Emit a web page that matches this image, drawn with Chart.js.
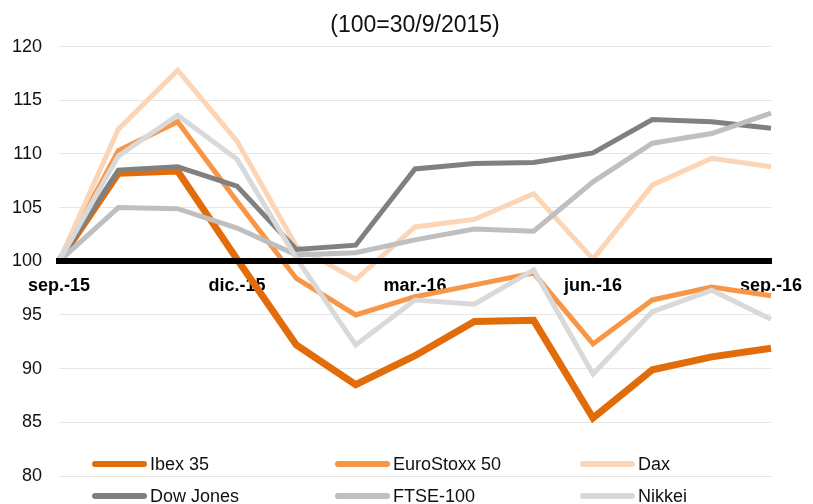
<!DOCTYPE html>
<html>
<head>
<meta charset="utf-8">
<script src="https://cdn.jsdelivr.net/npm/chart.js@4/dist/chart.umd.min.js"></script>
<style>
  html, body { margin: 0; padding: 0; background: #fff; overflow: hidden; }
  #wrap { width: 813px; height: 504px; }
</style>
</head>
<body>
<div id="wrap"><canvas id="indexChart" width="813" height="504"></canvas></div>
<script>
// Monthly values, base 100 = 30/9/2015
const months = ['sep.-15', 'oct.-15', 'nov.-15', 'dic.-15', 'ene.-16', 'feb.-16', 'mar.-16',
  'abr.-16', 'may.-16', 'jun.-16', 'jul.-16', 'ago.-16', 'sep.-16'];
const ibex35 = [100, 108.2, 108.4, 100.2, 92.2, 88.5, 91.2, 94.4, 94.5, 85.4, 89.9, 91.1, 91.9];
const euroStoxx50 = [100, 110.3, 113.0, 105.6, 98.4, 95.0, 96.7, 97.8, 98.9, 92.3, 96.4, 97.6, 96.8];
const dax = [100, 112.3, 117.8, 111.2, 101.4, 98.3, 103.2, 103.9, 106.3, 100.2, 107.1, 109.6, 108.8];
const dowJones = [100, 108.5, 108.8, 107.0, 101.1, 101.5, 108.6, 109.1, 109.2, 110.1, 113.2, 113.0, 112.4];
const ftse100 = [100, 105.0, 104.9, 103.1, 100.6, 100.8, 102.0, 103.0, 102.8, 107.4, 111.0, 111.9, 113.8];
const nikkei = [100, 109.8, 113.6, 109.5, 100.3, 92.2, 96.4, 96.0, 99.2, 89.5, 95.3, 97.3, 94.6];
const yTicks = [80, 85, 90, 95, 100, 105, 110, 115, 120];

const FONT = "'Liberation Sans', Arial, Helvetica, sans-serif";

function series(label, data, color, width, order) {
  return {
    label: label,
    data: data,
    borderColor: color,
    backgroundColor: color,
    borderWidth: width,
    pointRadius: 0,
    pointHoverRadius: 0,
    tension: 0,
    fill: false,
    order: order
  };
}

// Legend drawn over the lower part of the plot, like the original
const overlayLegend = {
  id: 'overlayLegend',
  afterDraw(chart) {
    const ctx = chart.ctx;
    const cols = [92, 335, 580];
    ctx.save();
    ctx.font = '18px ' + FONT;
    ctx.textBaseline = 'middle';
    chart.data.datasets.forEach((ds, i) => {
      const x = cols[i % 3];
      const y = 464 + Math.floor(i / 3) * 32;
      ctx.strokeStyle = ds.borderColor;
      ctx.lineWidth = 6;
      ctx.lineCap = 'round';
      ctx.beginPath();
      ctx.moveTo(x + 3, y);
      ctx.lineTo(x + 52, y);
      ctx.stroke();
      ctx.fillStyle = '#111';
      ctx.fillText(ds.label, x + 58, y + 1);
    });
    ctx.restore();
  }
};

new Chart(document.getElementById('indexChart'), {
  type: 'line',
  data: {
    labels: months,
    datasets: [
      series('Ibex 35', ibex35, '#E36C0A', 7, 6),
      series('EuroStoxx 50', euroStoxx50, '#F79646', 5, 5),
      series('Dax', dax, '#FBD5B5', 5, 4),
      series('Dow Jones', dowJones, '#808080', 5, 3),
      series('FTSE-100', ftse100, '#BFBFBF', 5, 2),
      series('Nikkei', nikkei, '#D9D9D9', 5, 1)
    ]
  },
  options: {
    responsive: false,
    animation: false,
    devicePixelRatio: 1,
    layout: {
      padding: { left: 0, right: 42, top: 0, bottom: 28 }
    },
    plugins: {
      legend: { display: false },
      tooltip: { enabled: false },
      title: {
        display: true,
        fullSize: false,
        text: '(100=30/9/2015)',
        color: '#111',
        font: { family: FONT, size: 23, weight: 'normal' },
        padding: { top: 12, bottom: 7 }
      }
    },
    scales: {
      x: {
        position: { y: 100 },
        offset: false,
        afterFit: function(scale) {
          scale.height = 0;
          scale.paddingLeft = 0;
          scale.paddingRight = 0;
        },
        grid: { display: false, drawTicks: false },
        border: { display: true, color: '#000', width: 6, z: 1 },
        ticks: {
          autoSkip: false,
          maxRotation: 0,
          padding: 14,
          color: '#000',
          font: { family: FONT, size: 18, weight: 'bold' },
          callback: function(value, index) {
            return index % 3 === 0 ? months[index] : '';
          }
        }
      },
      y: {
        min: 80,
        max: 120,
        afterFit: function(scale) { scale.width = 59; },
        afterBuildTicks: function(scale) {
          scale.ticks = yTicks.map(v => ({ value: v }));
        },
        grid: { color: '#E6E6E6', lineWidth: 1, drawTicks: false },
        border: { display: false },
        ticks: {
          padding: 17,
          color: '#111',
          font: { family: FONT, size: 18 }
        }
      }
    }
  },
  plugins: [overlayLegend]
});
</script>
</body>
</html>
